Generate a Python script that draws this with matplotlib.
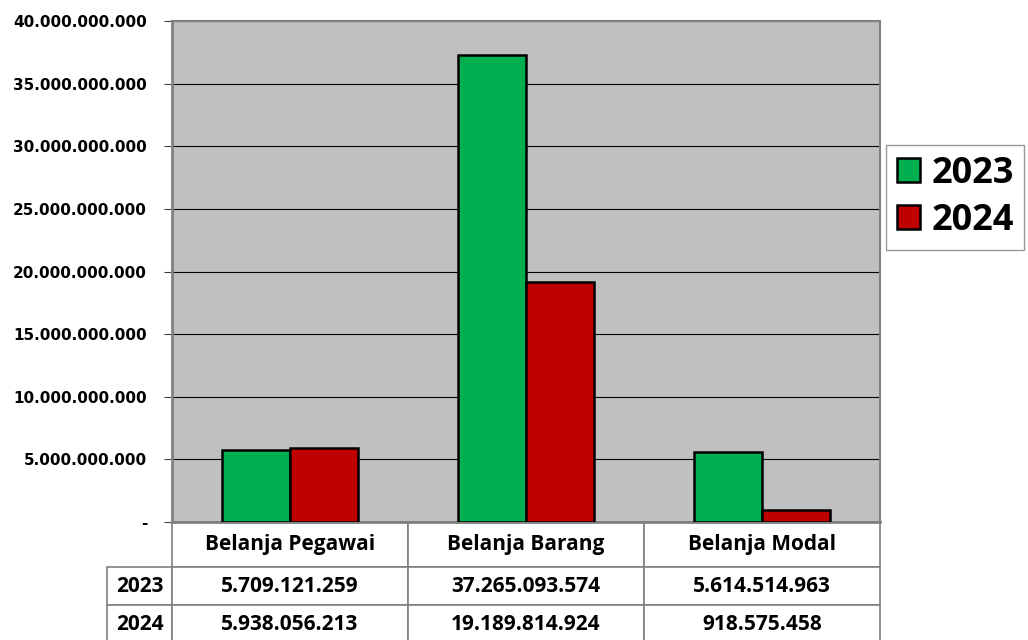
import matplotlib.pyplot as plt
import numpy as np

categories = ["Belanja Pegawai", "Belanja Barang", "Belanja Modal"]
years = ["2023", "2024"]
values_2023 = [5709121259, 37265093574, 5614514963]
values_2024 = [5938056213, 19189814924, 918575458]
colors = ["#00B050", "#C00000"]


def fmt(v):
    if v == 0:
        return "-"
    return f"{v:,.0f}".replace(",", ".")


fig = plt.figure(figsize=(10.28, 6.4), dpi=100)
ax = fig.add_axes([172 / 1028, 1 - 522 / 640, 708 / 1028, 501 / 640])
ax.set_facecolor("#C0C0C0")

x = np.arange(len(categories))
w = 68 / 236
ax.bar(x - w / 2, values_2023, w, color=colors[0], edgecolor="black", linewidth=1.8, label=years[0], zorder=3)
ax.bar(x + w / 2, values_2024, w, color=colors[1], edgecolor="black", linewidth=1.8, label=years[1], zorder=3)

ax.set_xlim(-0.5, 2.5)
ax.set_ylim(0, 40e9)
ticks = np.arange(0, 40e9 + 1, 5e9)
ax.set_yticks(ticks)
ax.set_yticklabels([fmt(t) for t in ticks], fontweight="bold", fontsize=11, family="DejaVu Sans")
ax.yaxis.grid(True, color="black", linewidth=0.8, zorder=1)
ax.set_xticks([])
ax.tick_params(axis="y", length=6, color="#404040", pad=12)
for s in ["left", "bottom"]:
    ax.spines[s].set_color("#808080")
    ax.spines[s].set_linewidth(2)
for s in ["top", "right"]:
    ax.spines[s].set_color("#808080")
    ax.spines[s].set_linewidth(1.5)

# data table under the chart
cell_text = [[years[0]] + [fmt(v) for v in values_2023],
             [years[1]] + [fmt(v) for v in values_2024]]
tbl = ax.table(cellText=cell_text, colLabels=[""] + categories,
               cellLoc="center", bbox=[-65 / 708, -121 / 501, 1 + 65 / 708, 121 / 501],
               colWidths=[65, 236, 236, 236])
tbl.auto_set_font_size(False)
for (r, c), cell in tbl.get_celld().items():
    cell.set_edgecolor("#808080")
    cell.set_linewidth(1.2)
    t = cell.get_text()
    t.set_fontsize(15)
    t.set_fontweight("bold")
    t.set_family("Open Sans")
    if r == 0 and c == 0:
        cell.visible_edges = ""
    if r == 0:
        cell.set_height(45)
    else:
        cell.set_height(38)

leg = ax.legend(loc="upper left", bbox_to_anchor=(886 / 1028, 1 - 145 / 640), bbox_transform=fig.transFigure,
                prop={"family": "Open Sans", "weight": "bold", "size": 26}, frameon=True, fancybox=False,
                handlelength=0.65, handleheight=0.65, handletextpad=0.3, labelspacing=0.3,
                borderpad=0.3, borderaxespad=0)
leg.get_frame().set_edgecolor("#808080")
leg.get_frame().set_linewidth(1)
for h in leg.legend_handles:
    h.set_linewidth(1.8)

fig.savefig("out.png", dpi=100, facecolor="white")
